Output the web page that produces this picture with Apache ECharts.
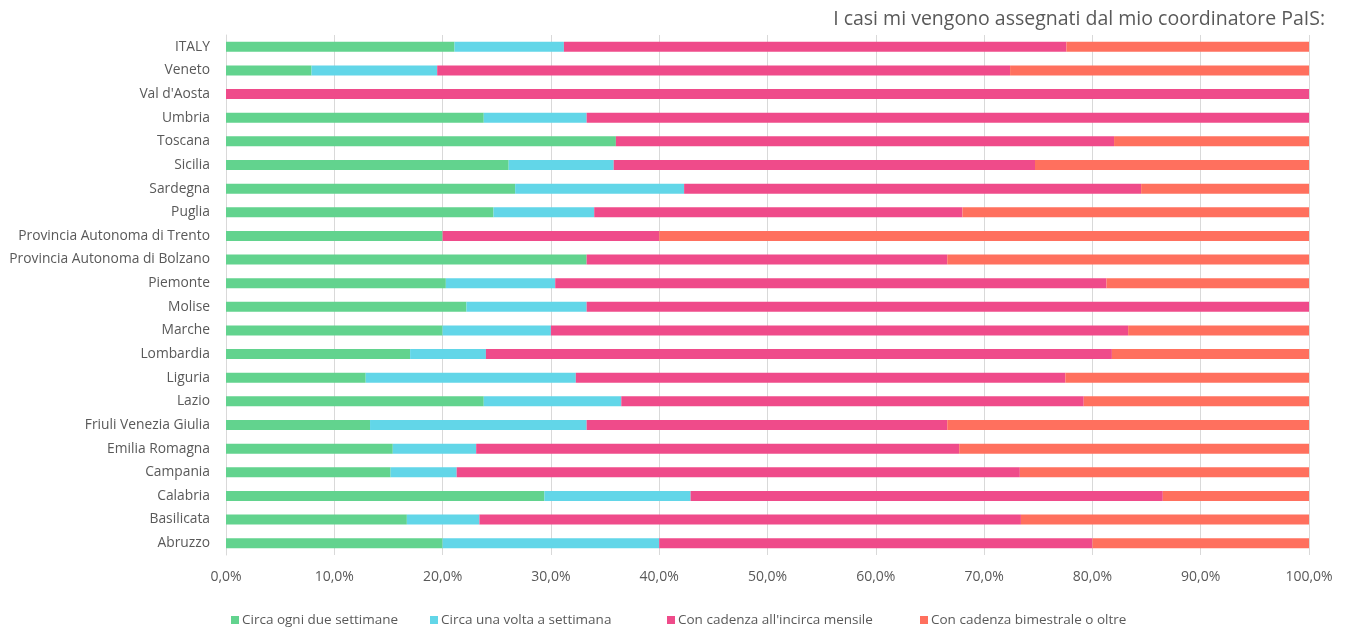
<!DOCTYPE html>
<html>
<head>
<meta charset="utf-8">
<script src="https://cdn.jsdelivr.net/npm/echarts@6/dist/echarts.min.js"></script>
<style>
  html, body { margin: 0; padding: 0; background: #ffffff; }
  #chart { width: 1347px; height: 627px; }
</style>
</head>
<body>
<div id="chart"></div>
<script>
// Regions, top to bottom as drawn
const regions = [
  'ITALY', 'Veneto', "Val d'Aosta", 'Umbria', 'Toscana', 'Sicilia', 'Sardegna', 'Puglia',
  'Provincia Autonoma di Trento', 'Provincia Autonoma di Bolzano', 'Piemonte', 'Molise',
  'Marche', 'Lombardia', 'Liguria', 'Lazio', 'Friuli Venezia Giulia', 'Emilia Romagna',
  'Campania', 'Calabria', 'Basilicata', 'Abruzzo'
];

// Share of answers (%) per region
const ogniDueSettimane = [21.1, 7.9, 0, 23.8, 36.0, 26.1, 26.7, 24.7, 20.0, 33.3, 20.3, 22.2, 20.0, 17.0, 12.9, 23.8, 13.3, 15.4, 15.2, 29.4, 16.7, 20.0];
const unaVoltaSettimana = [10.1, 11.6, 0, 9.5, 0, 9.7, 15.6, 9.3, 0, 0, 10.1, 11.1, 10.0, 7.0, 19.4, 12.7, 20.0, 7.7, 6.1, 13.5, 6.7, 20.0];
const mensile = [46.4, 52.9, 100, 66.7, 46.0, 38.9, 42.2, 34.0, 20.0, 33.3, 50.9, 66.7, 53.3, 57.8, 45.2, 42.7, 33.3, 44.6, 52.0, 43.6, 50.0, 40.0];
const bimestrale = [22.4, 27.6, 0, 0, 18.0, 25.3, 15.5, 32.0, 60.0, 33.4, 18.7, 0, 16.7, 18.2, 22.5, 20.8, 33.4, 32.3, 26.7, 13.5, 26.6, 20.0];

const seriesNames = [
  'Circa ogni due settimane',
  'Circa una volta a settimana',
  'Con cadenza all\'incirca mensile',
  'Con cadenza bimestrale o oltre'
];
const seriesValues = [ogniDueSettimane, unaVoltaSettimana, mensile, bimestrale];
const colors = ['#62D38E', '#62D6E8', '#EF4B8A', '#FF705E'];

const chartTitle = 'I casi mi vengono assegnati dal mio coordinatore PaIS:';

const textColor = '#595959';
const fontFamily = 'Open Sans, Liberation Sans, sans-serif';

const chart = echarts.init(document.getElementById('chart'), null, { renderer: 'canvas' });

const legendLefts = [226, 425, 662, 915];

chart.setOption({
  animation: false,
  backgroundColor: '#ffffff',
  color: colors,
  title: {
    text: chartTitle,
    right: 17,
    top: 4,
    textStyle: { color: textColor, fontSize: 19.5, fontWeight: 'normal', fontFamily: fontFamily }
  },
  legend: seriesNames.map((name, i) => ({
    data: [name],
    left: legendLefts[i],
    top: 608,
    icon: 'rect',
    itemWidth: 8,
    itemHeight: 8,
    itemGap: 4,
    textStyle: { color: textColor, fontSize: 13.5, fontFamily: fontFamily, padding: [0, 0, 0, -2] }
  })),
  grid: { left: 226, right: 38, top: 35, bottom: 72, containLabel: false },
  xAxis: {
    type: 'value',
    min: 0,
    max: 100,
    interval: 10,
    axisLine: { show: false },
    axisTick: { show: false },
    splitLine: { show: true, lineStyle: { color: '#d9d9d9', width: 1 } },
    axisLabel: {
      color: textColor,
      fontSize: 14,
      fontFamily: fontFamily,
      margin: 15,
      formatter: v => v.toFixed(1).replace('.', ',') + '%'
    }
  },
  yAxis: {
    type: 'category',
    data: regions,
    inverse: true,
    axisLine: { show: true, lineStyle: { color: '#d9d9d9' } },
    axisTick: { show: false },
    axisLabel: { color: textColor, fontSize: 13.8, fontFamily: fontFamily, margin: 16 }
  },
  series: seriesNames.map((name, i) => ({
    name: name,
    type: 'bar',
    stack: 'total',
    barWidth: 10,
    data: seriesValues[i],
    itemStyle: { color: colors[i] }
  }))
});
</script>
</body>
</html>
